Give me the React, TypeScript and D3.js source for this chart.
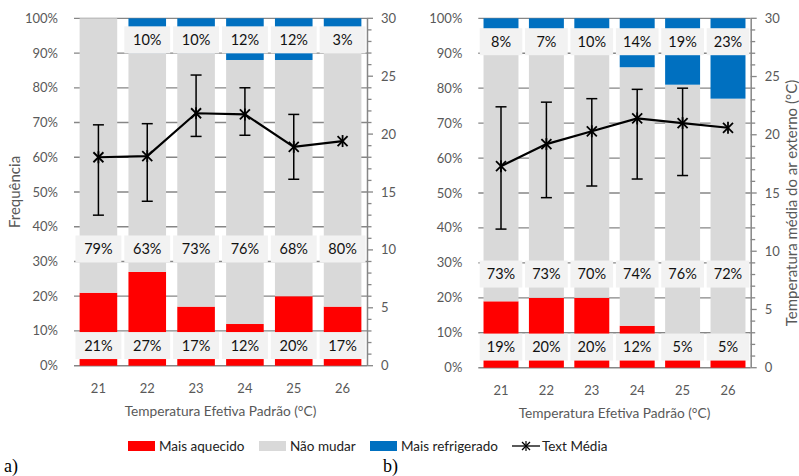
import React from "react";
import * as d3 from "d3";

const categories = ["21", "22", "23", "24", "25", "26"];

// painel a)
const heatedA = [21, 27, 17, 12, 20, 17];
const keepA = [79, 63, 73, 76, 68, 80];
const cooledA = [0, 10, 10, 12, 12, 3];
const meanA = [18.0, 18.1, 21.8, 21.7, 18.9, 19.4];
const lowA: (number | null)[] = [13.0, 14.2, 19.8, 19.9, 16.1, null];
const highA: (number | null)[] = [20.8, 20.9, 25.1, 24.0, 21.7, null];

// painel b)
const heatedB = [19, 20, 20, 12, 5, 5];
const keepB = [73, 73, 70, 74, 76, 72];
const cooledB = [8, 7, 10, 14, 19, 23];
const meanB = [17.3, 19.2, 20.3, 21.4, 21.0, 20.6];
const lowB: (number | null)[] = [11.9, 14.6, 15.6, 16.2, 16.5, null];
const highB: (number | null)[] = [22.4, 22.8, 23.1, 23.9, 24.0, null];

const pctTicks = d3.range(0, 101, 10);
const tempTicks = d3.range(0, 31, 5);
const tempMinor = d3.range(0, 31, 1);

const seriesKeys = ["heated", "keep", "cooled"];
const seriesNames = ["Mais aquecido", "Não mudar", "Mais refrigerado"];
const seriesColors = ["#ff0000", "#d9d9d9", "#0070c0"];

const FONT = "Lato, 'Open Sans', sans-serif";
const AXIS_GREY = "#868686";
const TEXT_GREY = "#595959";

type PanelProps = {
  left: number;
  right: number;
  top: number;
  bottom: number;
  heated: number[];
  keep: number[];
  cooled: number[];
  mean: number[];
  low: (number | null)[];
  high: (number | null)[];
  labelAt: number[]; // where the label boxes sit, in %
  leftTitle?: string;
  rightTitle?: string;
};

function Panel(p: PanelProps) {
  const x = d3.scaleBand<string>()
    .domain(categories)
    .range([p.left, p.right])
    .paddingInner(0.23)
    .paddingOuter(0.115);
  const band = (p.right - p.left) / categories.length;
  const y = d3.scaleLinear().domain([0, 100]).range([p.bottom, p.top]);
  const yT = d3.scaleLinear().domain([0, 30]).range([p.bottom, p.top]);

  const rows = categories.map((c, i) => ({
    cat: c,
    heated: p.heated[i],
    keep: p.keep[i],
    cooled: p.cooled[i],
  }));
  const stacked = d3.stack<any>().keys(seriesKeys)(rows);

  const cx = (c: string) => (x(c) ?? 0) + x.bandwidth() / 2;
  const line = d3.line<number>()
    .x((d, i) => cx(categories[i]))
    .y(d => yT(d));

  const boxW = band * 0.94;
  const boxH = 27;

  return (
    <g>
      {/* grelha */}
      {pctTicks.map(t => (
        <line key={"g" + t} x1={p.left} x2={p.right} y1={y(t)} y2={y(t)}
          stroke={AXIS_GREY} strokeWidth={t === 0 ? 1.5 : 1.3} />
      ))}
      {/* barras */}
      {stacked.map((s, si) => (
        <g key={s.key} fill={seriesColors[si]}>
          {s.map((d, i) => (
            <rect key={i} x={x(categories[i])} width={x.bandwidth()}
              y={y(d[1])} height={Math.max(0, y(d[0]) - y(d[1]))} />
          ))}
        </g>
      ))}
      {/* rótulos */}
      {stacked.map((s, si) => (
        <g key={"l" + s.key}>
          {s.map((d, i) => {
            const v = d[1] - d[0];
            if (v <= 0) return null;
            const yy = y(p.labelAt[si]);
            return (
              <g key={i}>
                <rect x={cx(categories[i]) - boxW / 2} y={yy - boxH / 2}
                  width={boxW} height={boxH} fill="#f2f2f2" />
                <text x={cx(categories[i])} y={yy + 5} textAnchor="middle"
                  fontSize={14.5} fill="#111" fontFamily={FONT}>{Math.round(v)}%</text>
              </g>
            );
          })}
        </g>
      ))}
      {/* eixo esquerdo */}
      {pctTicks.map(t => (
        <text key={"yl" + t} x={p.left - 16} y={y(t) + 4.5} textAnchor="end"
          fontSize={13} fill={TEXT_GREY} fontFamily={FONT}>{t}%</text>
      ))}
      {/* eixo direito */}
      <line x1={p.right + 0.5} x2={p.right + 0.5} y1={p.top} y2={p.bottom}
        stroke={AXIS_GREY} strokeWidth={1.5} />
      {tempMinor.map(t => (
        <line key={"mt" + t} x1={p.right} x2={p.right + (t % 5 === 0 ? 6 : 4.5)}
          y1={yT(t)} y2={yT(t)} stroke={AXIS_GREY} strokeWidth={1.3} />
      ))}
      {tempTicks.map(t => (
        <text key={"yr" + t} x={p.right + 14} y={yT(t) + 4.5}
          fontSize={13} fill={TEXT_GREY} fontFamily={FONT}>{t}</text>
      ))}
      {/* eixo x */}
      {categories.map(c => (
        <text key={"x" + c} x={cx(c)} y={p.bottom + 27} textAnchor="middle"
          fontSize={13} fill={TEXT_GREY} fontFamily={FONT}>{c}</text>
      ))}
      <text x={(p.left + p.right) / 2} y={p.bottom + 50} textAnchor="middle"
        fontSize={13.7} fill={TEXT_GREY} fontFamily={FONT}>Temperatura Efetiva Padrão (°C)</text>
      {p.leftTitle && (
        <text transform={`translate(${p.left - 54},${(p.top + p.bottom) / 2}) rotate(-90)`}
          textAnchor="middle" fontSize={15} fill={TEXT_GREY} fontFamily={FONT}>{p.leftTitle}</text>
      )}
      {p.rightTitle && (
        <text transform={`translate(${p.right + 46},${(p.top + p.bottom) / 2 + 10}) rotate(-90)`}
          textAnchor="middle" fontSize={15} fill={TEXT_GREY} fontFamily={FONT}>{p.rightTitle}</text>
      )}
      {/* barras de erro */}
      {p.mean.map((m, i) => {
        const lo = p.low[i];
        const hi = p.high[i];
        if (lo == null || hi == null) return null;
        const xx = cx(categories[i]);
        return (
          <g key={"e" + i} stroke="#000" strokeWidth={1.5}>
            <line x1={xx} x2={xx} y1={yT(lo)} y2={yT(hi)} />
            <line x1={xx - 5.5} x2={xx + 5.5} y1={yT(lo)} y2={yT(lo)} />
            <line x1={xx - 5.5} x2={xx + 5.5} y1={yT(hi)} y2={yT(hi)} />
          </g>
        );
      })}
      {/* linha da média */}
      <path d={line(p.mean) ?? ""} fill="none" stroke="#000" strokeWidth={2.2} />
      {p.mean.map((m, i) => {
        const xx = cx(categories[i]);
        const yy = yT(m);
        const r = 5;
        return (
          <g key={"m" + i} stroke="#000" strokeWidth={1.8}>
            <line x1={xx - r} x2={xx + r} y1={yy - r} y2={yy + r} />
            <line x1={xx - r} x2={xx + r} y1={yy + r} y2={yy - r} />
            <line x1={xx} x2={xx} y1={yy - r - 1} y2={yy + r + 1} />
          </g>
        );
      })}
    </g>
  );
}

function Legend() {
  const items = [
    { x: 128, name: seriesNames[0], color: seriesColors[0] },
    { x: 259, name: seriesNames[1], color: seriesColors[1] },
    { x: 370, name: seriesNames[2], color: seriesColors[2] },
  ];
  const yy = 446;
  return (
    <g fontFamily={FONT} fontSize={13.5} fill="#222">
      {items.map(it => (
        <g key={it.name}>
          <rect x={it.x} y={yy - 5} width={27} height={10} fill={it.color} />
          <text x={it.x + 31} y={yy + 4.5}>{it.name}</text>
        </g>
      ))}
      <line x1={512} x2={540} y1={yy} y2={yy} stroke="#000" strokeWidth={1.3} />
      <g stroke="#000" strokeWidth={1.2}>
        <line x1={522} x2={530} y1={yy - 4} y2={yy + 4} />
        <line x1={522} x2={530} y1={yy + 4} y2={yy - 4} />
        <line x1={526} x2={526} y1={yy - 5} y2={yy + 5} />
      </g>
      <text x={542} y={yy + 4.5}>Text Média</text>
    </g>
  );
}

export default function App() {
  return (
    <svg width={799} height={476} style={{ position: "absolute", left: 0, top: 0, background: "#fff" }}>
      <rect width={799} height={476} fill="#fff" />
      <Panel left={74} right={367} top={18.3} bottom={365.7}
        heated={heatedA} keep={keepA} cooled={cooledA}
        mean={meanA} low={lowA} high={highA}
        labelAt={[5.8, 33.6, 93.8]} leftTitle="Frequência" />
      <Panel left={478.3} right={750.7} top={18.3} bottom={367.7}
        heated={heatedB} keep={keepB} cooled={cooledB}
        mean={meanB} low={lowB} high={highB}
        labelAt={[5.9, 26.8, 93.3]} rightTitle="Temperatura média do ar externo (°C)" />
      <Legend />
      <text x={4} y={472} fontFamily="'Liberation Serif', 'DejaVu Serif', serif" fontSize={18}>a)</text>
      <text x={383} y={472} fontFamily="'Liberation Serif', 'DejaVu Serif', serif" fontSize={18}>b)</text>
    </svg>
  );
}
